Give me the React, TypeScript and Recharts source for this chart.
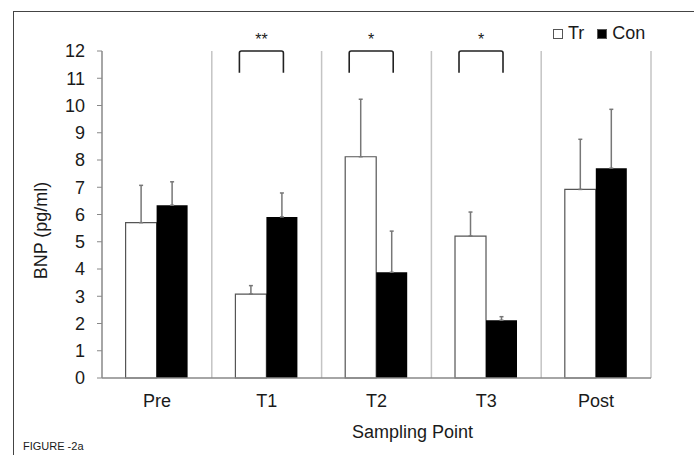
import { Bar, BarChart, CartesianGrid, ErrorBar, LabelList, Legend, XAxis, YAxis } from "recharts";

const points = ["Pre", "T1", "T2", "T3", "Post"];
const trMean = [5.7, 3.08, 8.12, 5.21, 6.92];
const trErr = [1.37, 0.31, 2.11, 0.88, 1.84];
const conMean = [6.34, 5.91, 3.88, 2.12, 7.7];
const conErr = [0.86, 0.88, 1.51, 0.13, 2.16];
const sigMarks = ["", "**", "*", "*", ""];
const yTicks = [0, 1, 2, 3, 4, 5, 6, 7, 8, 9, 10, 11, 12];
const legendOrder = ["Tr", "Con"];

const rows = points.map((p, i) => ({
    point: p,
    tr: trMean[i],
    trErr: [0, trErr[i]],
    con: conMean[i],
    conErr: [0, conErr[i]],
}));

const FONT = '"Liberation Sans", Arial, sans-serif';
const INK = "#1a1a1a";

// bracket + stars above a pair, scaled off the Tr bar itself
function Bracket(props: any) {
    const { x, y, width, height, value, index } = props;
    const mark = sigMarks[index];
    if (!mark) return null;
    const base = y + height;
    const k = height / value;
    const py = (v: number) => base - v * k;
    const mid = x + width - 5;
    const l = mid - 22;
    const r = mid + 22;
    const top = py(12);
    const leg = py(11.2);
    return (
        <g>
            <path
                d={`M${l},${leg} L${l},${top + 2} Q${l},${top} ${l + 2},${top} L${r - 2},${top} Q${r},${top} ${r},${top + 2} L${r},${leg}`}
                fill="none"
                stroke="#222"
                strokeWidth={1.6}
            />
            <text x={mid} y={py(12.22)} textAnchor="middle" fontSize={16} fill={INK} fontFamily={FONT}>
                {mark}
            </text>
        </g>
    );
}

function LegendBox({ payload }: any) {
    const items = [...(payload ?? [])].sort(
        (a: any, b: any) => legendOrder.indexOf(a.value) - legendOrder.indexOf(b.value)
    );
    return (
        <div style={{ display: "flex", alignItems: "center", fontFamily: FONT, fontSize: 18, color: INK }}>
            {items.map((p: any) => (
                <span key={p.value} style={{ display: "flex", alignItems: "center", marginRight: 13 }}>
                    <span
                        style={{
                            display: "inline-block",
                            width: 10,
                            height: 10,
                            boxSizing: "border-box",
                            border: "1px solid #555",
                            background: p.value === "Tr" ? "#fff" : "#000",
                            marginRight: 5,
                        }}
                    />
                    {p.value}
                </span>
            ))}
        </div>
    );
}

export default function App() {
    return (
        <div style={{ position: "absolute", left: 0, top: 0, width: 694, height: 455, background: "#fff", overflow: "hidden" }}>
            <div
                style={{
                    position: "absolute",
                    left: 13,
                    top: 11,
                    width: 700,
                    height: 460,
                    borderTop: "1.5px solid #444",
                    borderLeft: "1.5px solid #444",
                }}
            />
            <BarChart
                width={694}
                height={455}
                data={rows}
                margin={{ top: 51, right: 43, bottom: 0, left: 0 }}
                barGap={0}
                barCategoryGap="21.5%"
                style={{ fontFamily: FONT }}
            >
                <CartesianGrid
                    horizontal={false}
                    stroke="#c4c4c4"
                    strokeWidth={1.5}
                    verticalCoordinatesGenerator={({ offset }: any) =>
                        points.map((_, i) => offset.left + ((i + 1) * offset.width) / points.length)
                    }
                />
                <XAxis
                    dataKey="point"
                    height={77}
                    tickLine={false}
                    tickSize={6}
                    tickMargin={10}
                    axisLine={{ stroke: "#888", strokeWidth: 1.5 }}
                    tick={{ fill: INK, fontSize: 18 }}
                    label={{
                        content: ({ viewBox }: any) => (
                            <text
                                x={viewBox.x + viewBox.width / 2 + 36}
                                y={viewBox.y + 60}
                                textAnchor="middle"
                                fontSize={18}
                                fill={INK}
                                fontFamily={FONT}
                            >
                                Sampling Point
                            </text>
                        ),
                    }}
                />
                <YAxis
                    width={102}
                    domain={[0, 12]}
                    ticks={yTicks}
                    interval={0}
                    tickSize={5}
                    tickMargin={12}
                    tickLine={{ stroke: "#888" }}
                    axisLine={{ stroke: "#888", strokeWidth: 1.5 }}
                    tick={{ fill: INK, fontSize: 18 }}
                    label={{
                        content: ({ viewBox }: any) => {
                            const lx = viewBox.x + 47;
                            const ly = viewBox.y + viewBox.height / 2 + 16;
                            return (
                                <text
                                    x={lx}
                                    y={ly}
                                    transform={`rotate(-90, ${lx}, ${ly})`}
                                    textAnchor="middle"
                                    fontSize={18}
                                    fill={INK}
                                    fontFamily={FONT}
                                >
                                    BNP (pg/ml)
                                </text>
                            );
                        },
                    }}
                />
                <Legend
                    layout="horizontal"
                    verticalAlign="middle"
                    align="center"
                    content={<LegendBox />}
                    wrapperStyle={{ position: "absolute", top: 23, left: 553, width: 130 }}
                />
                <Bar dataKey="tr" name="Tr" fill="#fff" stroke="#555" strokeWidth={1.2} isAnimationActive={false}>
                    <ErrorBar dataKey="trErr" width={2} stroke="#777" strokeWidth={1.5} />
                    <LabelList dataKey="tr" content={<Bracket />} />
                </Bar>
                <Bar dataKey="con" name="Con" fill="#000" isAnimationActive={false}>
                    <ErrorBar dataKey="conErr" width={2} stroke="#777" strokeWidth={1.5} />
                </Bar>
            </BarChart>
            <div style={{ position: "absolute", left: 23, top: 440, fontFamily: FONT, fontSize: 11, color: INK }}>
                FIGURE -2a
            </div>
        </div>
    );
}
